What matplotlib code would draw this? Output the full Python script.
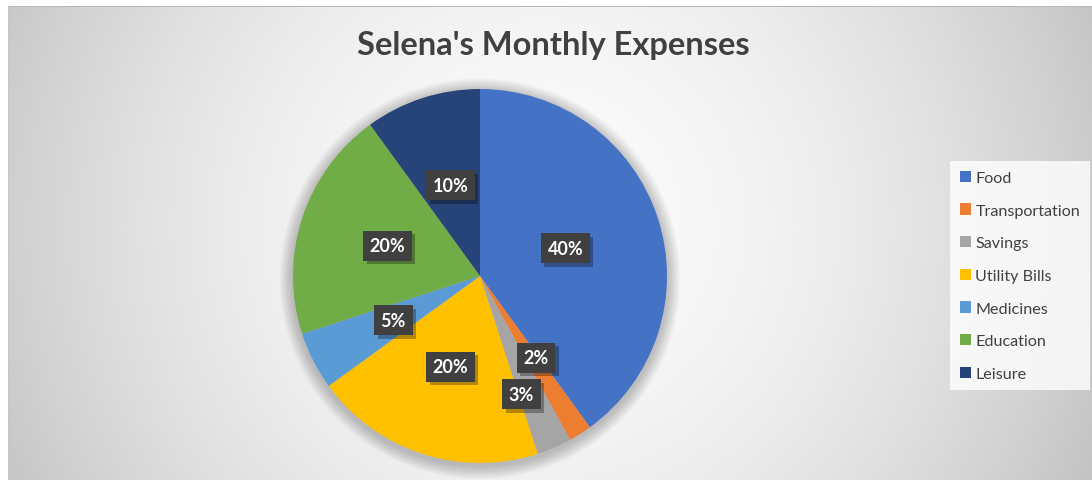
import numpy as np
import matplotlib
matplotlib.use("Agg")
import matplotlib.pyplot as plt
from matplotlib.patches import Circle, Patch
import matplotlib.patheffects as pe

plt.rcParams['font.family'] = ['Lato', 'DejaVu Sans']

categories = ["Food", "Transportation", "Savings", "Utility Bills", "Medicines", "Education", "Leisure"]
values = [40, 2, 3, 20, 5, 20, 10]
labels = ["40%", "2%", "3%", "20%", "5%", "20%", "10%"]
colors = ["#4472C4", "#ED7D31", "#A5A5A5", "#FFC000", "#5B9BD5", "#70AD47", "#264478"]
title = "Selena's Monthly Expenses"

# label placement (style): radial distance and angle tweak per wedge
label_dist = [0.48, 0.53, 0.67, 0.51, 0.52, 0.52, 0.51]
label_dang = [0, 2, -4, 0, 0, 0, 0]

W, H = 1092, 481
fig = plt.figure(figsize=(W / 100, H / 100), dpi=100)

# background radial gradient
bg = fig.add_axes([0, 0, 1, 1], zorder=-10)
yy, xx = np.mgrid[0:H, 0:W]
cx, cy = 540, 225
d = np.sqrt((xx - cx) ** 2 + (yy - cy) ** 2)
dmax = np.sqrt((W - cx) ** 2 + (H - cy) ** 2)
t = np.clip(d / dmax, 0, 1) ** 1.8
g = (252 - (252 - 195) * t) / 255.0
img = np.dstack([g, g, g])
img[:7, :, :] = 1.0
img[:, :8, :] = 1.0
img[7, 8:, :] = 0.72
img[7:, 8, :] = np.minimum(img[7:, 8, :], 0.78)
bg.imshow(img, extent=[0, W, H, 0], aspect='auto', interpolation='bilinear')
bg.set_xlim(0, W)
bg.set_ylim(H, 0)
bg.axis('off')

# pie axes
pcx, pcy, R = 480, 277, 187
ax = fig.add_axes([(pcx - R) / W, (H - pcy - R) / H, 2 * R / W, 2 * R / H])

# soft shadow
for i in range(12):
    r = 1.0 + 0.006 * (i + 1)
    ax.add_patch(Circle((0.0, -0.014), r, color='black', alpha=0.02, lw=0, zorder=0, clip_on=False))

wedges, _ = ax.pie(values, colors=colors, startangle=90, counterclock=False,
                   radius=1.0, wedgeprops=dict(linewidth=0))
for w in wedges:
    w.set_zorder(2)
ax.set_xlim(-1, 1)
ax.set_ylim(-1, 1)
ax.set_aspect('equal')
ax.axis('off')

for w, lab, dist, dang in zip(wedges, labels, label_dist, label_dang):
    ang = np.deg2rad((w.theta1 + w.theta2) / 2 + dang)
    x, y = dist * np.cos(ang), dist * np.sin(ang)
    txt = ax.text(x, y, lab, ha='center', va='center', fontsize=13, fontweight='bold',
                  color='white', zorder=5,
                  bbox=dict(boxstyle='square,pad=0.36', fc='#404040', ec='none'))
    txt.get_bbox_patch().set_path_effects([
        pe.SimplePatchShadow(offset=(2.5, -2.5), shadow_rgbFace='black', alpha=0.3),
        pe.Normal()])

fig.text(553 / W, 1 - 46 / H, title, ha='center', va='center', fontsize=23.5,
         fontweight='bold', color='#404040')

handles = [Patch(facecolor=c, edgecolor='none') for c in colors]
leg = fig.legend(handles, categories, loc='upper left',
                 bbox_to_anchor=(950 / W, 1 - 162 / H), fontsize=11.6,
                 frameon=True, fancybox=False, handlelength=0.7, handleheight=0.7,
                 handletextpad=0.28, labelspacing=1.14, borderpad=0.6,
                 borderaxespad=0)
leg.get_frame().set_facecolor((1, 1, 1, 0.18))
leg.get_frame().set_edgecolor('none')
for t_ in leg.get_texts():
    t_.set_color('#404040')

fig.savefig('out.png', dpi=100)
